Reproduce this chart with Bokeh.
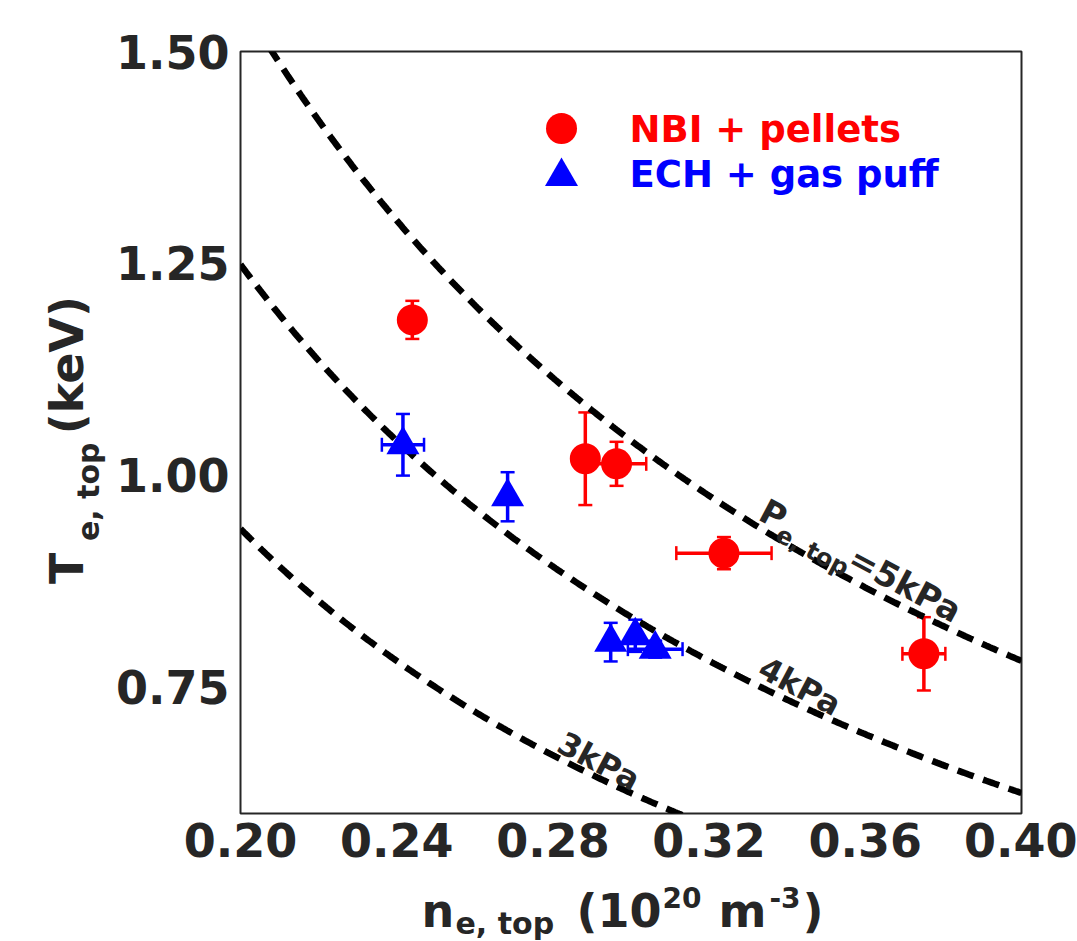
import math
import numpy as np
from bokeh.plotting import figure
from bokeh.layouts import column, row
from bokeh.models import (ColumnDataSource, Whisker, TeeHead, Label, FixedTicker,
                          PrintfTickFormatter, Range1d)
from bokeh.embed import file_html
from bokeh.resources import INLINE

# ---------------- data ----------------
nbi_n = [0.2440, 0.2883, 0.2963, 0.3238, 0.3750]
nbi_T = [1.183, 1.019, 1.013, 0.9075, 0.7886]
nbi_n_err = [0.0, 0.0, 0.0076, 0.0122, 0.0055]
nbi_T_err = [0.0225, 0.0547, 0.026, 0.019, 0.0433]

ech_n = [0.2416, 0.2684, 0.2948, 0.3011, 0.3062]
ech_T = [1.0355, 0.9741, 0.8024, 0.8099, 0.7941]
ech_n_err = [0.0054, 0.0, 0.0, 0.0, 0.0070]
ech_T_err = [0.0364, 0.029, 0.0228, 0.019, 0.010]

isobar_kPa = [5, 4, 3]
x_ticks = [0.20, 0.24, 0.28, 0.32, 0.36, 0.40]
y_ticks = [0.75, 1.00, 1.25, 1.50]
legend_labels = ["NBI + pellets", "ECH + gas puff"]

X0, X1 = 0.20, 0.40
Y0, Y1 = 0.60, 1.50
KPA_PER_1E20_KEV = 16.02  # n[1e20 m^-3] * T[keV] -> kPa

DARK = "#262626"
RED = "#ff0000"
BLUE = "#0000ff"
FONT = "DejaVu Sans"
BASE_FIX = 0.24  # baseline correction (fraction of font size)

# ---------------- layout (page pixels) ----------------
PAGE_W, PAGE_H = 1077, 941
YLAB_W = 110          # strip left of the main figure holding the y label
MAIN_H = 870          # main figure height; x label strip below it
FL, FR, FT, FB = 240, 1021, 51, 813  # frame edges, page px

MAIN_W = PAGE_W - YLAB_W
p = figure(width=MAIN_W, height=MAIN_H, x_range=Range1d(X0, X1), y_range=Range1d(Y0, Y1),
           output_backend="svg", toolbar_location=None,
           min_border_left=FL - YLAB_W, min_border_right=PAGE_W - FR,
           min_border_top=FT, min_border_bottom=MAIN_H - FB)
p.background_fill_color = "white"
p.border_fill_color = "white"
p.grid.visible = False
p.outline_line_color = DARK
p.outline_line_width = 2

for ax in p.axis:
    ax.axis_line_color = None
    ax.major_tick_line_color = None
    ax.minor_tick_line_color = None
    ax.major_tick_out = 0
    ax.major_tick_in = 0
    ax.minor_tick_out = 0
    ax.major_label_text_font = FONT
    ax.major_label_text_font_style = "bold"
    ax.major_label_text_font_size = "46px"
    ax.major_label_text_color = DARK
    ax.formatter = PrintfTickFormatter(format="%.2f")
p.xaxis.ticker = FixedTicker(ticks=x_ticks)
p.yaxis.ticker = FixedTicker(ticks=y_ticks)
p.xaxis.major_label_standoff = 9
p.yaxis.major_label_standoff = 11

# page-pixel -> data helpers for the main frame
def px2x(px):
    return X0 + (px - FL) * (X1 - X0) / (FR - FL)

def py2y(py):
    return Y1 - (py - FT) * (Y1 - Y0) / (FB - FT)

def label(fig, text, size, px, py, angle=0.0, color=DARK, to_x=None, to_y=None):
    # shift the anchor against the glyph-down direction so the baseline lands on (px, py)
    d = BASE_FIX * size
    px = px - d * math.sin(angle)
    py = py - d * math.cos(angle)
    x = to_x(px) if to_x else px
    y = to_y(py) if to_y else py
    fig.add_layout(Label(x=x, y=y, text=text, angle=angle,
                         text_font=FONT, text_font_style="bold",
                         text_font_size=f"{size}px", text_color=color,
                         text_align="left", text_baseline="alphabetic"))

def put(text, size, px, py, angle=0.0, color=DARK):
    label(p, text, size, px, py, angle, color, to_x=px2x, to_y=py2y)

def put_along(pieces, ox, oy, deg):
    th = math.radians(deg)
    for text, size, along, down in pieces:
        px = ox + along * math.cos(th) - down * math.sin(th)
        py = oy + along * math.sin(th) + down * math.cos(th)
        put(text, size, px, py, angle=-th)

# ---------------- isobars ----------------
n_grid = np.linspace(X0, X1, 400)
for P in isobar_kPa:
    p.line(n_grid, P / (KPA_PER_1E20_KEV * n_grid), line_color="black",
           line_width=6.5, line_dash="17 10")

# ---------------- error bars ----------------
def add_errors(n, T, n_err, T_err, color):
    yi = [i for i in range(len(n)) if T_err[i] > 0]
    ys = ColumnDataSource(dict(base=[n[i] for i in yi],
                               lower=[T[i] - T_err[i] for i in yi],
                               upper=[T[i] + T_err[i] for i in yi]))
    p.add_layout(Whisker(source=ys, base="base", lower="lower", upper="upper",
                         dimension="height", line_color=color, line_width=3.5,
                         upper_head=TeeHead(size=14, line_color=color, line_width=2.5),
                         lower_head=TeeHead(size=14, line_color=color, line_width=2.5),
                         level="underlay"))
    xi = [i for i in range(len(n)) if n_err[i] > 0]
    xs = ColumnDataSource(dict(base=[T[i] for i in xi],
                               lower=[n[i] - n_err[i] for i in xi],
                               upper=[n[i] + n_err[i] for i in xi]))
    p.add_layout(Whisker(source=xs, base="base", lower="lower", upper="upper",
                         dimension="width", line_color=color, line_width=3.5,
                         upper_head=TeeHead(size=14, line_color=color, line_width=2.5),
                         lower_head=TeeHead(size=14, line_color=color, line_width=2.5),
                         level="underlay"))

add_errors(nbi_n, nbi_T, nbi_n_err, nbi_T_err, RED)
add_errors(ech_n, ech_T, ech_n_err, ech_T_err, BLUE)

p.scatter(nbi_n, nbi_T, marker="circle", size=31, fill_color=RED, line_color=None)
p.scatter(ech_n, ech_T, marker="triangle", size=33, fill_color=BLUE, line_color=None)

# ---------------- legend (manual, inside the frame) ----------------
p.scatter([px2x(561)], [py2y(128)], marker="circle", size=31, fill_color=RED, line_color=None)
p.scatter([px2x(561)], [py2y(176)], marker="triangle", size=33, fill_color=BLUE, line_color=None)
put(legend_labels[0], 37, 629, 138, color=RED)
put(legend_labels[1], 37, 629, 183, color=BLUE)

# ---------------- isobar labels ----------------
put_along([("P", 34, 0, 0), ("e, top", 24, 25, 12), ("=5kPa", 34, 101, 0)], 758, 515, 28)
put_along([("4kPa", 32, 0, 0)], 757, 672, 28)
put_along([("3kPa", 32, 0, 0)], 556, 747, 28)

# ---------------- axis-label strips (pixel-coordinate figures) ----------------
def strip(w, h, x_off, y_off):
    f = figure(width=w, height=h, x_range=Range1d(x_off, x_off + w),
               y_range=Range1d(y_off + h, y_off), output_backend="svg",
               toolbar_location=None, x_axis_location=None, y_axis_location=None,
               min_border=0)
    f.grid.visible = False
    f.outline_line_color = None
    f.background_fill_color = "white"
    f.border_fill_color = "white"
    return f

ylab = strip(YLAB_W, MAIN_H, 0, 0)
label(ylab, "T", 46, 78, 608, angle=math.pi / 2)
label(ylab, "e, top", 30, 95, 559, angle=math.pi / 2)
label(ylab, "(keV)", 46, 78, 437, angle=math.pi / 2)

xlab = strip(PAGE_W, PAGE_H - MAIN_H, 0, MAIN_H)
label(xlab, "n", 46, 421, 922)
label(xlab, "e, top", 30, 455, 930)
label(xlab, "(10", 46, 576, 922)
label(xlab, "20", 28, 662, 904)
label(xlab, "m", 46, 718, 922)
label(xlab, "-3", 28, 769, 904)
label(xlab, ")", 46, 802, 922)

layout = column(row(ylab, p, spacing=0), xlab, spacing=0)
open("out.html", "w").write(file_html(layout, INLINE))
